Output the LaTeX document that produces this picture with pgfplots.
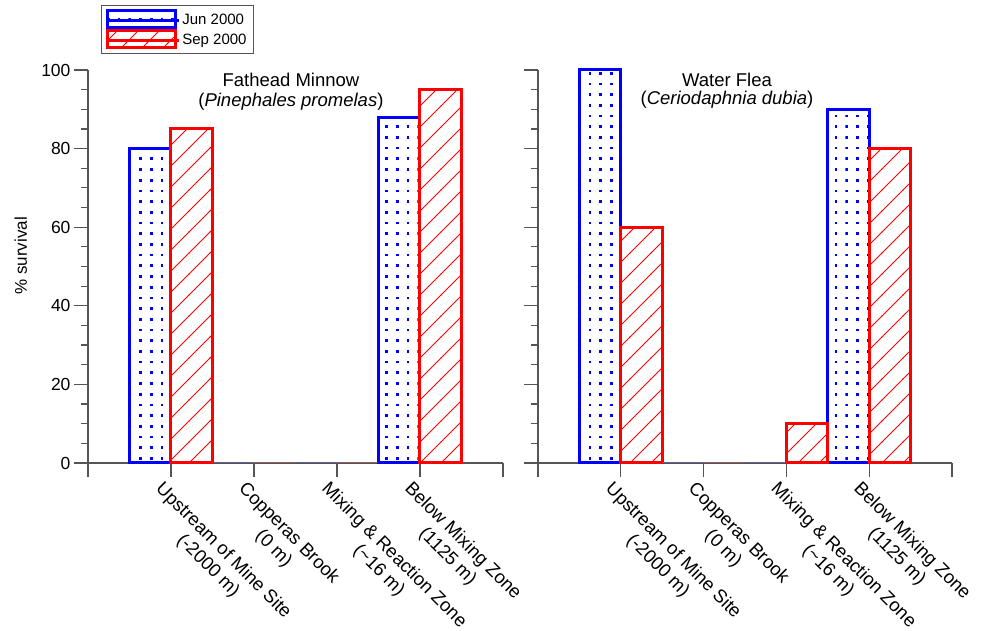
\documentclass[border=0pt]{standalone}
\usepackage{fontspec}
\setmainfont{Liberation Sans}
\usepackage{pgfplots}
\pgfplotsset{compat=1.18}
\usetikzlibrary{patterns}

\pgfdeclarepatternformonly{bigdots}{\pgfqpoint{0pt}{0pt}}{\pgfqpoint{3pt}{3pt}}{\pgfqpoint{10.7pt}{10.7pt}}{%
  \pgfpathrectangle{\pgfqpoint{0pt}{0pt}}{\pgfqpoint{2.7pt}{2.7pt}}\pgfusepath{fill}}
\pgfdeclarepatternformonly{bighatch}{\pgfqpoint{-1pt}{-1pt}}{\pgfqpoint{22pt}{22pt}}{\pgfqpoint{21pt}{21pt}}{%
  \pgfsetlinewidth{0.8pt}\pgfpathmoveto{\pgfqpoint{-0.5pt}{-0.5pt}}\pgfpathlineto{\pgfqpoint{21.5pt}{21.5pt}}\pgfusepath{stroke}}

\definecolor{axgray}{RGB}{85,85,85}

\pgfplotsset{
  panel/.style={
    scale only axis,
    anchor=south west,
    height=393pt,
    xmin=0, xmax=5, ymin=0, ymax=100,
    enlargelimits=false,
    clip=false,
    ybar,
    axis x line*=bottom,
    axis y line*=left,
    x axis line style={-},
    y axis line style={-},
    axis line style={axgray, line width=1.2pt},
    tick style={axgray, line width=1.2pt},
    tick align=outside,
    major tick length=14pt,
    minor tick length=7pt,
    xtick={0,1,2,3,4,5},
    xticklabels={{},{Upstream of Mine Site\\(-2000 m)},{Copperas Brook\\(0 m)},{Mixing \& Reaction Zone\\(\textasciitilde16 m)},{Below Mixing Zone\\(1125 m)},{}},
    xticklabel style={xshift=-6.5pt, yshift=-1.5pt, rotate=-45, anchor=north west, align=center, inner sep=1pt,
      font=\fontsize{18.5}{21.5}\selectfont},
    ytick={0,20,40,60,80,100},
    minor y tick num=3,
    yticklabel style={font=\fontsize{17.5}{20}\selectfont},
    /pgf/number format/assume math mode=true,
  },
  jun/.style={bar shift=-0.25, bar width=0.5, draw=blue, line width=3pt, pattern=bigdots, pattern color=blue,
    legend image code/.code={\draw[##1] (0pt,-7.5pt) rectangle (68pt,9.5pt); \path (0pt,0pt) -- (71pt,0pt);}},
  sep/.style={bar shift=0.25, bar width=0.5, draw=red, line width=3pt, pattern=bighatch, pattern color=red,
    legend image code/.code={\draw[##1] (0pt,-7.5pt) rectangle (68pt,9.5pt); \path (0pt,0pt) -- (71pt,0pt);}},
  junzero/.style={bar shift=-0.25, bar width=0.5, draw=blue!55, line width=1pt, fill=none, forget plot},
  sepzero/.style={bar shift=0.25, bar width=0.5, draw=red!55, line width=1pt, fill=none, forget plot},
}

\begin{document}
\begin{tikzpicture}
\path[use as bounding box] (0pt,0pt) rectangle (990pt,631pt);

% Left panel: Fathead Minnow
\begin{axis}[panel,
  at={(88pt,168pt)}, width=415pt,
  ylabel={\% survival},
  ylabel style={at={(axis description cs:-0.147,0.527)}, anchor=base, font=\fontsize{17}{20}\selectfont},
  legend style={at={(axis description cs:0.0313,1.166)}, anchor=north west, draw=axgray, line width=0.8pt,
    font=\fontsize{15}{18}\selectfont, inner xsep=5pt, inner ysep=4pt, row sep=0pt,
    nodes={inner ysep=0pt}},
  legend cell align=left,
]
\addplot[jun] coordinates {(1,80) (4,88)};
\addlegendentry{Jun 2000}
\addplot[sep] coordinates {(1,85) (4,95)};
\addlegendentry{Sep 2000}
\addplot[junzero] coordinates {(2,0) (3,0)};
\addplot[sepzero] coordinates {(2,0) (3,0)};
\node[anchor=base, font=\fontsize{18.5}{21}\selectfont] at (axis description cs:0.489,0.957) {Fathead Minnow};
\node[anchor=base, font=\fontsize{18.5}{21}\selectfont] at (axis description cs:0.489,0.906) {(\textit{Pinephales promelas})};
\end{axis}

% Right panel: Water Flea
\begin{axis}[panel,
  at={(538pt,168pt)}, width=414pt,
  yticklabels={},
]
\addplot[jun] coordinates {(1,100) (4,90)};
\addplot[sep] coordinates {(1,60) (3,10) (4,80)};
\addplot[junzero] coordinates {(2,0) (3,0)};
\addplot[sepzero] coordinates {(2,0)};
\node[anchor=base, font=\fontsize{18.5}{21}\selectfont] at (axis description cs:0.4565,0.959) {Water Flea};
\node[anchor=base, font=\fontsize{18.5}{21}\selectfont] at (axis description cs:0.4565,0.911) {(\textit{Ceriodaphnia dubia})};
\end{axis}
\end{tikzpicture}
\end{document}
